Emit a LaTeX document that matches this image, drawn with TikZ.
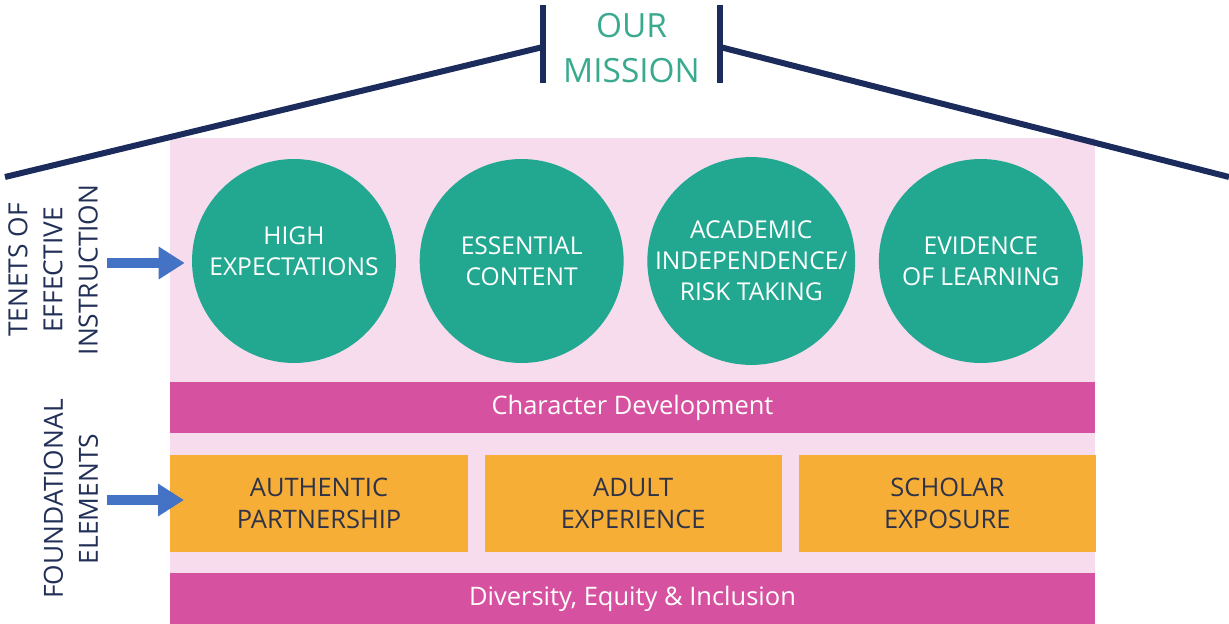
\documentclass[tikz,border=0pt]{standalone}
\usepackage{fontspec}
\setmainfont{Open Sans}
\usepackage{xcolor}
\usepackage{tikz}
\usetikzlibrary{positioning, shapes, arrows.meta, calc}
\definecolor{roofnavy}{RGB}{27,43,91}
\definecolor{missionteal}{RGB}{58,170,142}
\definecolor{tenetteal}{RGB}{34,168,144}
\definecolor{pastelpink}{RGB}{246,220,237}
\definecolor{barmagenta}{RGB}{214,82,160}
\definecolor{elemorange}{RGB}{246,174,54}
\definecolor{arrowblue}{RGB}{68,114,196}
\definecolor{labelnavy}{RGB}{34,48,88}
\definecolor{elemtext}{RGB}{46,51,72}

\begin{document}
\begin{tikzpicture}[x=0.02cm, y=-0.02cm,
	tenet/.style={circle, fill=tenetteal, text=white, minimum size=4.08cm, inner sep=0pt, align=center, font=\fontsize{14}{17.6}\selectfont},
	bar/.style={rectangle, fill=barmagenta, text=white, minimum width=18.5cm, inner sep=0pt, font=\fontsize{14.5}{17}\selectfont},
	element/.style={rectangle, fill=elemorange, text=elemtext, minimum width=5.95cm, minimum height=1.94cm, inner sep=0pt, align=center, font=\fontsize{14.5}{18.2}\selectfont},
	side/.style={rotate=90, text=labelnavy, align=center, font=\fontsize{15}{20}\selectfont},
	pointer/.style={arrowblue, line width=0.2cm, -{Triangle[length=0.52cm, width=0.62cm]}},
	roof/.style={roofnavy, line width=0.12cm}]
		\useasboundingbox (0,0) rectangle (1229,624);
		\fill[pastelpink] (170,138) rectangle (1095,624);
		%% roof and mission
		\coordinate (eaveL) at (5,177);
		\coordinate (ridgeL) at (543,47);
		\coordinate (ridgeR) at (720,47);
		\coordinate (eaveR) at (1229,177);
		\draw[roof] (eaveL) -- (ridgeL);
		\draw[roof] (ridgeR) -- (eaveR);
		\draw[roof] (543,5) -- (543,83);
		\draw[roof] (720,5) -- (720,83);
		\node[text=missionteal, align=center, font=\fontsize{19}{25.5}\selectfont] (mission) at (631.5,48) {OUR\\MISSION};
		%% tenets
		\node[tenet, text depth=0.4cm] (high) at (294,261) {HIGH\\EXPECTATIONS};
		\node[tenet, right=0.46cm of high] (content) {ESSENTIAL\\CONTENT};
		\node[tenet, right=0.46cm of content] (academic) {ACADEMIC\\INDEPENDENCE/\\RISK TAKING};
		\node[tenet, right=0.46cm of academic] (evidence) {EVIDENCE\\OF LEARNING};
		%% foundation
		\node[bar, minimum height=1.02cm] (character) at (632.5,407.5) {Character Development};
		\node[element, anchor=west] (authentic) at (170,503.5) {AUTHENTIC\\PARTNERSHIP};
		\node[element, right=0.32cm of authentic] (adult) {ADULT\\EXPERIENCE};
		\node[element, right=0.32cm of adult] (scholar) {SCHOLAR\\EXPOSURE};
		\node[bar, minimum height=1.04cm] (diversity) at (632.5,599) {Diversity, Equity \& Inclusion};
		%% side labels
		\node[side] (tenets) at (53,270) {TENETS OF\\EFFECTIVE\\INSTRUCTION};
		\node[side] (foundational) at (71,499) {FOUNDATIONAL\\ELEMENTS};
		\coordinate (tenetsarrow) at (107,263);
		\coordinate (foundarrow) at (107,500);
		\draw[pointer, shorten >=0.14cm] (tenetsarrow) -- (tenetsarrow -| high.west);
		\draw[pointer, shorten >=-0.28cm] (foundarrow) -- (foundarrow -| authentic.west);
\end{tikzpicture}
\end{document}
